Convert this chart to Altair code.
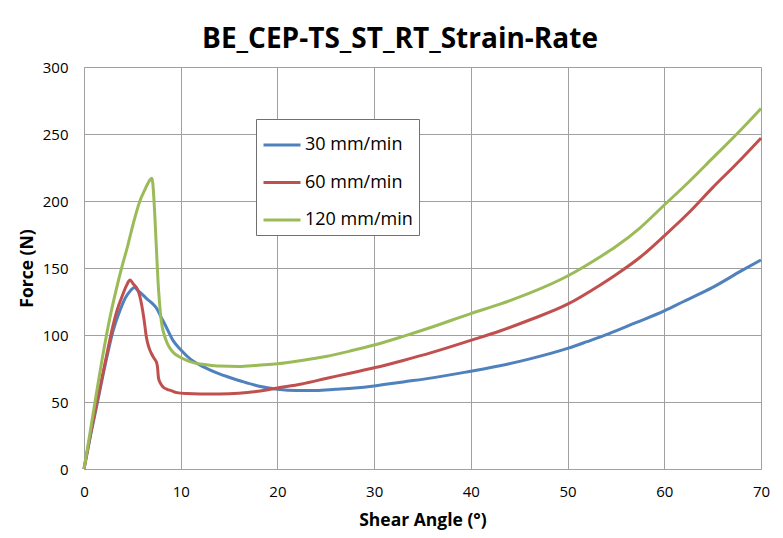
import altair as alt
import pandas as pd

chart_title = "BE_CEP-TS_ST_RT_Strain-Rate"
series_names = ["30 mm/min", "60 mm/min", "120 mm/min"]
series_colors = ["#4F81BD", "#C0504D", "#9BBB59"]

x_ticks = [0, 10, 20, 30, 40, 50, 60, 70]
y_ticks = [0, 50, 100, 150, 200, 250, 300]

x30 = [0, 0.7, 1.4, 2.2, 3.0, 3.7, 4.3, 4.8, 5.2, 5.6, 6.0, 6.5, 7.0, 7.5, 8.0, 8.5,
       9.2, 10, 11, 12, 13, 14, 15, 16.5, 18, 20, 22, 24, 26, 28, 30, 33, 36, 40,
       43, 46, 50, 52, 54.3, 57, 60, 62, 65, 68, 70]
y30 = [0, 26, 50, 78, 103, 118, 128, 133, 135.5, 133, 130.5, 127, 124, 120, 113, 106,
       96, 89, 82, 77.5, 74, 71, 68.5, 65, 62, 59.5, 58.5, 58.6, 59.5, 60.5, 62, 65, 68, 73,
       77, 82, 90, 95, 101, 109, 118, 125, 135.5, 148, 156]

x60 = [0, 0.7, 1.4, 2.2, 3.0, 3.4, 4.0, 4.4, 4.75, 5.1, 5.6, 5.95, 6.2, 6.46, 6.7, 6.98,
       7.3, 7.5, 7.6, 7.7, 7.9, 8.2, 8.6, 9.0, 9.6, 10.6, 12, 14, 16, 18, 20, 22.5, 25,
       27.5, 30, 33, 36, 40, 43, 46, 50, 53.3, 55, 57.5, 60, 62.5, 65, 67.5, 70]
y60 = [0, 27, 52, 80, 107, 118, 130, 137, 141, 138, 133, 123, 112, 98, 91, 86,
       82, 79.5, 76, 68, 64, 61, 59.5, 58.5, 57, 56.3, 56, 56, 56.5, 58, 60.5, 63.5, 67.5,
       71.5, 75.5, 81, 87, 96, 103, 111, 123, 137, 145, 158, 174, 191, 210, 228, 247]

x120 = [0, 0.6, 1.14, 1.9, 2.68, 3.3, 3.89, 4.5, 5.2, 5.78, 6.2, 6.6, 6.85, 7.0, 7.1,
        7.2, 7.33, 7.45, 7.55, 7.67, 7.8, 8.0, 8.3, 8.6, 8.9, 9.3, 9.8, 10.5, 11.5, 12.5,
        14, 16, 18, 20, 22.5, 25, 27.5, 30, 33, 36, 40, 43, 46, 50, 53.3, 55, 57.5, 60,
        62.5, 65, 67.5, 70]
y120 = [0, 26, 50, 83, 113, 133, 150, 166, 186, 200, 207, 213, 216, 217, 214,
        205, 188, 170, 155, 138, 125, 110, 100, 94, 90, 86.5, 84, 81.5, 79, 78,
        76.8, 76.5, 77.5, 78.5, 81, 84, 88, 92.5, 99, 106, 116, 123, 131, 144, 158, 166,
        180, 197, 214, 232, 250, 269]

rows = []
for name, xs, ys in zip(series_names, [x30, x60, x120], [y30, y60, y120]):
    for i, (a, b) in enumerate(zip(xs, ys)):
        rows.append({"series": name, "angle": a, "force": b, "idx": i})
df = pd.DataFrame(rows)

FONT = "Open Sans"
GRID = "#A0A0A0"

lines = alt.Chart(df).mark_line(strokeWidth=3, interpolate="monotone").encode(
    x=alt.X("angle:Q",
            scale=alt.Scale(domain=[0, 70], nice=False, zero=False),
            axis=alt.Axis(values=x_ticks, title="Shear Angle (°)", grid=True,
                          ticks=False, labelFlush=False,
                          labelPadding=15, titlePadding=12)),
    y=alt.Y("force:Q",
            scale=alt.Scale(domain=[0, 300], nice=False),
            axis=alt.Axis(values=y_ticks, title="Force (N)", grid=True,
                          ticks=False, labelFlush=False,
                          labelPadding=16, titlePadding=6)),
    color=alt.Color("series:N",
                    scale=alt.Scale(domain=series_names, range=series_colors),
                    sort=series_names,
                    legend=alt.Legend(title=None, orient="none", legendX=172, legendY=52,
                                      symbolType="stroke", symbolSize=1369,
                                      symbolStrokeWidth=3, labelFont=FONT,
                                      labelFontSize=18, labelColor="#000000",
                                      labelOffset=3, padding=6, rowPadding=8.5,
                                      strokeColor="#707070", fillColor="#FFFFFF")),
    order=alt.Order("idx:Q"),
)

one = pd.DataFrame({"k": [0]})
frame_left = alt.Chart(one).mark_rule(color="#8C8C8C", strokeWidth=1).encode(
    x=alt.value(-77), y=alt.value(-61), y2=alt.value(470))
frame_top = alt.Chart(one).mark_rule(color="#8C8C8C", strokeWidth=1).encode(
    x=alt.value(-77), x2=alt.value(700), y=alt.value(-61))
title_text = alt.Chart(one).mark_text(
    font=FONT, fontSize=28, fontWeight="bold", color="#000000",
    align="center", baseline="middle").encode(
    x=alt.value(316), y=alt.value(-27), text=alt.value(chart_title))

chart = alt.layer(frame_left, frame_top, title_text, lines).properties(
    width=677, height=402,
    autosize=alt.AutoSizeParams(type="none"),
    padding={"left": 76, "top": 59, "right": 14, "bottom": 62},
).configure_view(stroke=None).configure_axis(
    gridColor=GRID, gridWidth=1, domainColor=GRID, domainWidth=1,
    labelFont=FONT, labelFontSize=15, labelColor="#000000",
    titleFont=FONT, titleFontSize=17.5, titleFontWeight="bold", titleColor="#000000",
)

chart.save("out.html", embed_options={"renderer": "svg", "actions": False})
